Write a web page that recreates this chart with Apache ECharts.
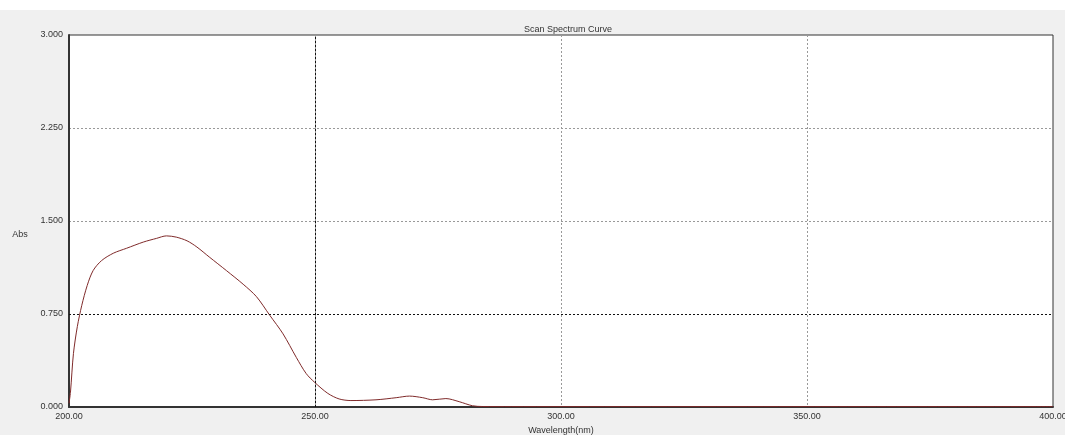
<!DOCTYPE html>
<html><head><meta charset="utf-8">
<script src="https://cdn.jsdelivr.net/npm/echarts@6/dist/echarts.min.js"></script>
<style>html,body{margin:0;padding:0;background:#fff}#c{width:1065px;height:435px}</style>
</head><body><div id="c"></div>
<script>
const titleText = 'Scan Spectrum Curve';
const xName = 'Wavelength(nm)';
const yName = 'Abs';
const wavelengths = [200.0,200.3,200.9,201.7,202.6,203.7,204.9,206.6,209.0,211.7,215.1,217.8,219.8,221.8,224.0,226.0,228.5,232.0,235.4,238.1,240.8,243.5,246.2,248.2,249.9,252.6,254.9,257.3,262.4,266.5,269.2,271.9,273.9,276.6,279.3,282.0,284.0,290,300,350,400];
const absorbance = [0.03,0.12,0.43,0.65,0.82,0.98,1.10,1.18,1.24,1.28,1.33,1.36,1.38,1.37,1.34,1.29,1.21,1.10,0.99,0.89,0.74,0.59,0.40,0.27,0.20,0.11,0.065,0.052,0.058,0.075,0.088,0.075,0.058,0.068,0.043,0.010,0.004,0.003,0.003,0.003,0.003];
const darkGridX = [250];
const darkGridY = [0.75];

const chart = echarts.init(document.getElementById('c'));
const font = 'Liberation Sans';
chart.setOption({
  backgroundColor: '#f0f0f0',
  animation: false,
  title: {text: titleText, left: 563, top: 20, textAlign: 'center',
    textStyle: {fontFamily: font, fontSize: 9, fontWeight: 'normal', color: '#333'}},
  graphic: [
    {type: 'rect', shape: {x: 0, y: 0, width: 1065, height: 10}, style: {fill: '#fff'}, silent: true},
    {type: 'text', x: 20, y: 235, style: {text: yName, fontFamily: font, fontSize: 9, fill: '#333', align: 'center', verticalAlign: 'middle'}, silent: true}
  ],
  grid: {left: 69, right: 12, top: 35, bottom: 28, outerBoundsMode: 'none', containLabel: false,
    show: true, backgroundColor: '#fff', borderColor: '#333', borderWidth: 1},
  xAxis: {type: 'value', min: 200, max: 400, interval: 50,
    name: xName, nameLocation: 'middle', nameGap: 10,
    nameTextStyle: {fontFamily: font, fontSize: 9, color: '#333'},
    axisLine: {lineStyle: {color: '#333', width: 2}},
    axisTick: {show: false},
    axisLabel: {fontFamily: font, fontSize: 9, color: '#333', margin: 5, hideOverlap: false, formatter: v => v.toFixed(2)},
    splitLine: {show: true, showMinLine: false, showMaxLine: false, lineStyle: {color: '#999', type: [2, 2], width: 1}}},
  yAxis: {type: 'value', min: 0, max: 3, interval: 0.75,
    axisLine: {show: true, lineStyle: {color: '#333', width: 2}},
    axisTick: {show: false},
    axisLabel: {fontFamily: font, fontSize: 9, color: '#333', margin: 6, formatter: v => v.toFixed(3)},
    splitLine: {show: true, showMinLine: false, showMaxLine: false, lineStyle: {color: '#999', type: [2, 2], width: 1}}},
  series: [{type: 'line', data: wavelengths.map((w, i) => [w, absorbance[i]]),
    showSymbol: false, smooth: 0.3, lineStyle: {color: '#7f2a2a', width: 1},
    markLine: {silent: true, symbol: 'none', label: {show: false},
      lineStyle: {color: '#111', type: [2, 2], width: 1},
      data: darkGridX.map(v => ({xAxis: v})).concat(darkGridY.map(v => ({yAxis: v})))}}]
});
</script></body></html>
